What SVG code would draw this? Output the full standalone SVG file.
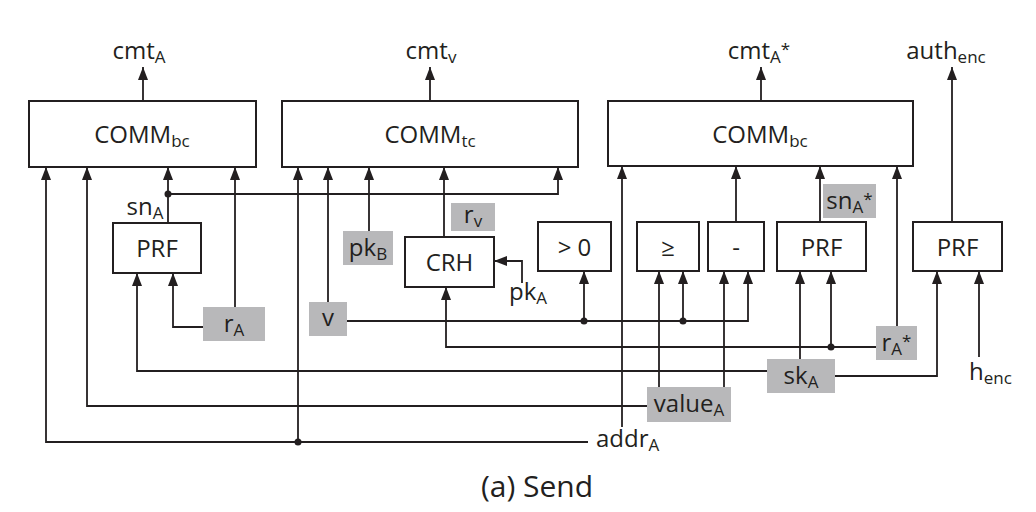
<svg xmlns="http://www.w3.org/2000/svg" width="1036" height="512" viewBox="0 0 1036 512">
<defs>
<marker id="ah" viewBox="0 0 13 10" refX="13" refY="5" markerWidth="13" markerHeight="10" markerUnits="userSpaceOnUse" orient="auto">
<path d="M0,0 L13,5 L0,10 z" fill="#231f20"/>
</marker>
</defs>
<style>
.box{fill:#fff;stroke:#231f20;stroke-width:2}
.gbox{fill:#b8b8ba;stroke:none}
.t{font-family:"Open Sans","Noto Sans","DejaVu Sans",sans-serif;font-size:24px;fill:#231f20;text-anchor:middle}
.tl{font-family:"Open Sans","Noto Sans","DejaVu Sans",sans-serif;font-size:24px;fill:#231f20}
.s{font-size:17px}
.w{fill:none;stroke:#231f20;stroke-width:1.8}
.a{marker-end:url(#ah)}
.dot{fill:#231f20}
.cap{font-family:"Open Sans","Noto Sans","DejaVu Sans",sans-serif;font-size:30px;fill:#231f20;text-anchor:middle}
</style>
<rect width="1036" height="512" fill="#fff"/>

<g id="connectors">
<path class="w a" d="M143,101 V67"/>
<path class="w a" d="M430,101 V67"/>
<path class="w a" d="M761,101 V67"/>
<path class="w a" d="M952,222 V67"/>
<path class="w a" d="M588,442 H46 V167"/>
<path class="w a" d="M647,406 H87 V167"/>
<path class="w a" d="M168,223 V167"/>
<path class="w a" d="M235,307 V167"/>
<path class="w a" d="M168,194 H558 V167"/>
<path class="w a" d="M298,442 V167"/>
<path class="w a" d="M328,302 V167"/>
<path class="w a" d="M369,231 V167"/>
<path class="w a" d="M444,237 V167"/>
<path class="w a" d="M522,283 V261 H494"/>
<path class="w a" d="M876,347 H446 V287"/>
<path class="w a" d="M347,321 H748 V271"/>
<path class="w a" d="M584,321 V271"/>
<path class="w a" d="M683,321 V271"/>
<path class="w a" d="M659,387 V271"/>
<path class="w a" d="M724,387 V271"/>
<path class="w a" d="M736,222 V166"/>
<path class="w a" d="M622,427 V166"/>
<path class="w a" d="M820,222 V166"/>
<path class="w a" d="M897,326 V166"/>
<path class="w a" d="M800,359 V271"/>
<path class="w a" d="M831,347 V271"/>
<path class="w a" d="M835,376 H937 V271"/>
<path class="w a" d="M979,357 V271"/>
<path class="w a" d="M767,371 H137 V273"/>
<path class="w a" d="M203,327 H173 V273"/>
<circle class="dot" cx="168" cy="194" r="3.5"/>
<circle class="dot" cx="298" cy="442" r="3.5"/>
<circle class="dot" cx="584" cy="321" r="3.5"/>
<circle class="dot" cx="683" cy="321" r="3.5"/>
<circle class="dot" cx="831" cy="347" r="3.5"/>
</g>

<g id="comm_bc1"><rect class="box" x="29" y="101" width="227" height="66"/><text class="t" x="142" y="143">COMM<tspan class="s" dy="4">bc</tspan></text></g>
<g id="comm_tc"><rect class="box" x="282" y="101" width="296" height="66"/><text class="t" x="430" y="143">COMM<tspan class="s" dy="4">tc</tspan></text></g>
<g id="comm_bc2"><rect class="box" x="608" y="101" width="305" height="65"/><text class="t" x="760" y="143">COMM<tspan class="s" dy="4">bc</tspan></text></g>
<g id="prf1"><rect class="box" x="113" y="223" width="88" height="50"/><text class="t" x="157" y="257">PRF</text></g>
<g id="crh"><rect class="box" x="405" y="237" width="89" height="50"/><text class="t" x="449.5" y="271">CRH</text></g>
<g id="gt0"><rect class="box" x="538" y="222" width="73" height="49"/><text class="t" x="574.5" y="256">&gt; 0</text></g>
<g id="geq"><rect class="box" x="637" y="222" width="62" height="49"/><text class="t" x="668" y="256">≥</text></g>
<g id="minus"><rect class="box" x="708" y="222" width="56" height="49"/><text class="t" x="736" y="256">-</text></g>
<g id="prf2"><rect class="box" x="777" y="222" width="89" height="49"/><text class="t" x="821.5" y="256">PRF</text></g>
<g id="prf3"><rect class="box" x="913" y="222" width="89" height="49"/><text class="t" x="957.5" y="256">PRF</text></g>

<g id="rA"><rect class="gbox" x="203" y="307" width="62" height="34"/><text class="t" x="234" y="332">r<tspan class="s" dy="4">A</tspan></text></g>
<g id="v"><rect class="gbox" x="309" y="302" width="38" height="34"/><text class="t" x="328" y="326">v</text></g>
<g id="pkB"><rect class="gbox" x="343" y="231" width="50" height="34"/><text class="t" x="368" y="256">pk<tspan class="s" dy="4">B</tspan></text></g>
<g id="rv"><rect class="gbox" x="451" y="203" width="44" height="28"/><text class="t" x="473" y="223">r<tspan class="s" dy="4">v</tspan></text></g>
<g id="snAstar"><rect class="gbox" x="823" y="184" width="53" height="34"/><text class="t" x="849.5" y="209">sn<tspan class="s" dy="4">A</tspan><tspan class="s" dy="-8">*</tspan></text></g>
<g id="valueA"><rect class="gbox" x="647" y="387" width="84" height="35"/><text class="t" x="689" y="412">value<tspan class="s" dy="4">A</tspan></text></g>
<g id="skA"><rect class="gbox" x="767" y="359" width="68" height="34"/><text class="t" x="801" y="384">sk<tspan class="s" dy="4">A</tspan></text></g>
<g id="rAstar"><rect class="gbox" x="876" y="326" width="41" height="34"/><text class="t" x="896.5" y="351">r<tspan class="s" dy="4">A</tspan><tspan class="s" dy="-8">*</tspan></text></g>

<g id="labels">
<text class="t" x="139" y="59">cmt<tspan class="s" dy="4">A</tspan></text>
<text class="t" x="431" y="59">cmt<tspan class="s" dy="4">v</tspan></text>
<text class="t" x="759" y="59">cmt<tspan class="s" dy="4">A</tspan><tspan class="s" dy="-8">*</tspan></text>
<text class="t" x="946" y="59">auth<tspan class="s" dy="4">enc</tspan></text>
<text class="t" x="145" y="215">sn<tspan class="s" dy="4">A</tspan></text>
<text class="t" x="528" y="300">pk<tspan class="s" dy="4">A</tspan></text>
<text class="tl" x="596" y="447">addr<tspan class="s" dy="4">A</tspan></text>
<text class="tl" x="969" y="380">h<tspan class="s" dy="4">enc</tspan></text>
<text class="cap" x="537" y="497">(a) Send</text>
</g>
</svg>
